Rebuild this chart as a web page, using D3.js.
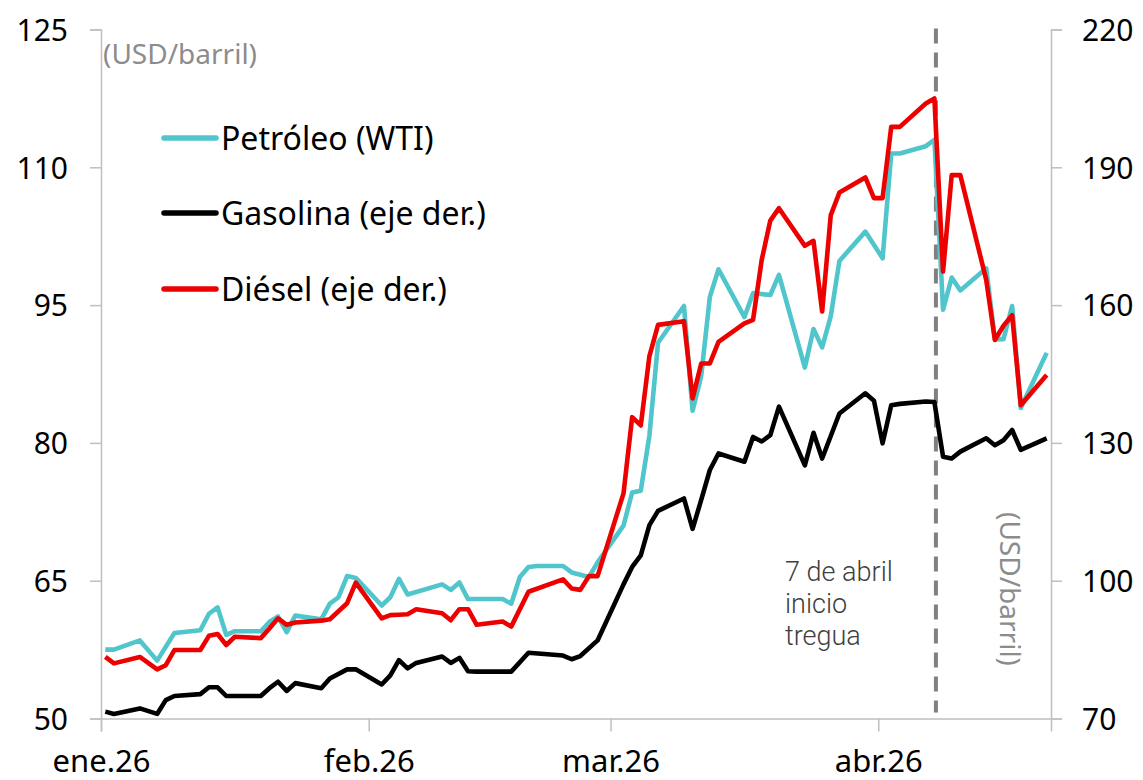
<!DOCTYPE html>
<html><head><meta charset="utf-8">
<script src="https://cdn.jsdelivr.net/npm/d3@7/dist/d3.min.js"></script>
<style>
html,body{margin:0;padding:0;background:#fff;}
svg{display:block;}
text{font-family:"Noto Sans",sans-serif;}
</style></head>
<body>
<svg id="c" width="1143" height="780"></svg>
<script>
const dates = ["2026-01-01","2026-01-02","2026-01-05","2026-01-07","2026-01-08","2026-01-09","2026-01-12","2026-01-13","2026-01-14","2026-01-15","2026-01-16","2026-01-19","2026-01-20","2026-01-21","2026-01-22","2026-01-23","2026-01-26","2026-01-27","2026-01-28","2026-01-29","2026-01-30","2026-02-02","2026-02-03","2026-02-04","2026-02-05","2026-02-06","2026-02-09","2026-02-10","2026-02-11","2026-02-12","2026-02-13","2026-02-16","2026-02-17","2026-02-18","2026-02-19","2026-02-20","2026-02-23","2026-02-24","2026-02-25","2026-02-26","2026-02-27","2026-03-02","2026-03-03","2026-03-04","2026-03-05","2026-03-06","2026-03-09","2026-03-10","2026-03-11","2026-03-12","2026-03-13","2026-03-16","2026-03-17","2026-03-18","2026-03-19","2026-03-20","2026-03-23","2026-03-24","2026-03-25","2026-03-26","2026-03-27","2026-03-30","2026-03-31","2026-04-01","2026-04-02","2026-04-03","2026-04-06","2026-04-07","2026-04-08","2026-04-09","2026-04-10","2026-04-13","2026-04-14","2026-04-15","2026-04-16","2026-04-17","2026-04-20"];
const wti = [57.5,57.5,58.5,56.3,null,59.3,59.6,61.4,62.1,59.1,59.5,59.5,60.5,61.1,59.4,61.2,60.8,62.5,63.2,65.5,65.3,62.3,63.2,65.2,63.5,null,64.6,64.0,64.8,63.0,63.0,63.0,62.5,65.4,66.5,66.6,66.6,65.9,null,65.4,67.0,71.0,74.6,74.8,80.8,90.9,94.9,83.5,87.3,95.9,98.9,93.7,96.3,96.2,96.1,98.3,88.2,92.4,90.4,93.8,99.8,103.0,null,100.1,111.5,111.5,112.3,113.0,94.5,98.0,96.6,99.0,91.3,91.3,94.9,83.8,89.8];
const gasolina = [71.5,71.0,72.2,71.0,74.0,74.9,75.3,76.8,76.8,74.9,74.9,74.9,76.6,78.0,76.0,77.7,76.6,78.7,null,80.7,80.7,77.4,79.4,82.7,80.9,82.1,83.5,82.1,83.2,80.3,80.2,80.2,80.2,null,84.3,null,83.7,82.9,83.6,null,87.0,99.2,103.0,105.5,112.1,115.2,117.9,111.3,117.6,124.1,127.7,125.9,131.3,130.3,131.7,137.9,125.1,132.2,126.6,131.5,136.4,140.8,139.2,129.9,138.2,138.5,139.0,138.9,127.0,126.6,128.1,131.0,129.5,130.6,132.8,128.5,131.0];
const diesel = [83.4,82.0,83.4,80.7,81.6,84.9,84.9,88.0,88.4,86.0,87.8,87.5,89.6,91.8,90.4,90.9,91.3,91.6,null,95.1,99.6,91.8,92.5,92.6,92.7,93.8,92.9,91.4,93.8,93.8,90.4,91.1,90.0,null,97.6,null,100.3,98.3,98.0,101.0,101.0,119.0,135.6,133.8,148.9,155.7,156.5,139.7,147.3,147.3,152.0,156.0,156.8,169.8,178.4,181.1,172.9,174.0,158.6,179.6,184.5,187.8,183.3,183.3,198.8,198.8,203.9,205.0,167.3,188.3,188.3,165.5,152.4,155.5,157.8,138.2,144.8];
const leftTicks = [50,65,80,95,110,125];
const rightTicks = [70,100,130,160,190,220];
const monthTicks = ["2026-01-01","2026-02-01","2026-03-01","2026-04-01"];
const monthLabels = ["ene.26","feb.26","mar.26","abr.26"];
const seriesNames = ["Petróleo (WTI)","Gasolina (eje der.)","Diésel (eje der.)"];
const eventDate = "2026-04-07";
const eventLabel = ["7 de abril","inicio","tregua"];
const unitLabel = "(USD/barril)";

const svg = d3.select("#c");
const X0 = 101, X1 = 1051, Y0 = 718.5, Y1 = 29.5;
const parse = s => new Date(s + "T00:00:00Z");
const noon = s => new Date(parse(s).getTime() + 12*3600*1000);
const x = d3.scaleUtc().domain([parse("2026-01-01"), parse("2026-04-21")]).range([X0, X1]);
const yL = d3.scaleLinear().domain([50,125]).range([Y0, Y1]);
const yR = d3.scaleLinear().domain([70,220]).range([Y0, Y1]);
const axisColor = "#BFBFBF";

// axes
const gL = svg.append("g").attr("transform", `translate(${X0},0)`)
  .call(d3.axisLeft(yL).tickValues(leftTicks).tickSize(11).tickPadding(22).tickFormat(d3.format("d")));
const gR = svg.append("g").attr("transform", `translate(${X1},0)`)
  .call(d3.axisRight(yR).tickValues(rightTicks).tickSize(11).tickPadding(20).tickFormat(d3.format("d")));
const gB = svg.append("g").attr("transform", `translate(0,${Y0})`)
  .call(d3.axisBottom(x).tickValues(monthTicks.map(parse)).tickSize(13).tickPadding(13)
    .tickFormat((d,i) => monthLabels[i]));
[gL,gR,gB].forEach(g => {
  g.select(".domain").attr("stroke", axisColor).attr("stroke-width", 1.5);
  g.selectAll(".tick line").attr("stroke", axisColor).attr("stroke-width", 1.5);
  g.selectAll(".tick text").attr("fill", "#000").style("font-size","30px").style("font-family","'Noto Sans',sans-serif");
});
gB.selectAll(".tick text").style("font-size","31px");
gL.selectAll(".tick text").attr("dy","0.36em");
gR.selectAll(".tick text").attr("dy","0.36em");
gB.selectAll(".tick text").attr("dy","0.88em");

// event line
svg.append("line")
  .attr("x1", x(noon(eventDate))+1.5).attr("x2", x(noon(eventDate))+1.5)
  .attr("y1", yL(125)-1).attr("y2", Y0-6)
  .attr("stroke", "#808080").attr("stroke-width", 4).attr("stroke-dasharray", "15,9");

// series
function draw(vals, scale, color) {
  const pts = dates.map((d,i) => ({t: noon(d), v: vals[i]})).filter(p => p.v != null);
  svg.append("path").datum(pts)
    .attr("fill","none").attr("stroke", color).attr("stroke-width", 4.6)
    .attr("stroke-linejoin","round")
    .attr("d", d3.line().x(p => x(p.t)).y(p => scale(p.v)));
}
const colors = ["#50C5CC", "#000000", "#EC0000"];
draw(wti, yL, colors[0]);
draw(gasolina, yR, colors[1]);
draw(diesel, yR, colors[2]);

// legend
const legY = [138, 213, 289];
seriesNames.forEach((n,i) => {
  svg.append("line").attr("x1",164).attr("x2",216).attr("y1",legY[i]).attr("y2",legY[i])
    .attr("stroke", colors[i]).attr("stroke-width",5.5).attr("stroke-linecap","round");
  svg.append("text").attr("x",221).attr("y",legY[i]).attr("dy","0.36em")
    .style("font-size","32px").attr("fill","#000").text(n);
});

// unit labels
svg.append("text").attr("x",103).attr("y",64).style("font-size","28px").attr("fill","#8C8C8C").text(unitLabel);
svg.append("text").attr("transform","translate(1000,589) rotate(90)").attr("text-anchor","middle")
  .style("font-size","28px").attr("fill","#8C8C8C").text(unitLabel);

// annotation
eventLabel.forEach((s,i) => {
  svg.append("text").attr("x",785).attr("y",581 + i*32)
    .style("font-size","27px").style("font-family","Roboto, sans-serif").style("font-weight","300")
    .attr("fill","#404040").text(s);
});
</script>
</body></html>
